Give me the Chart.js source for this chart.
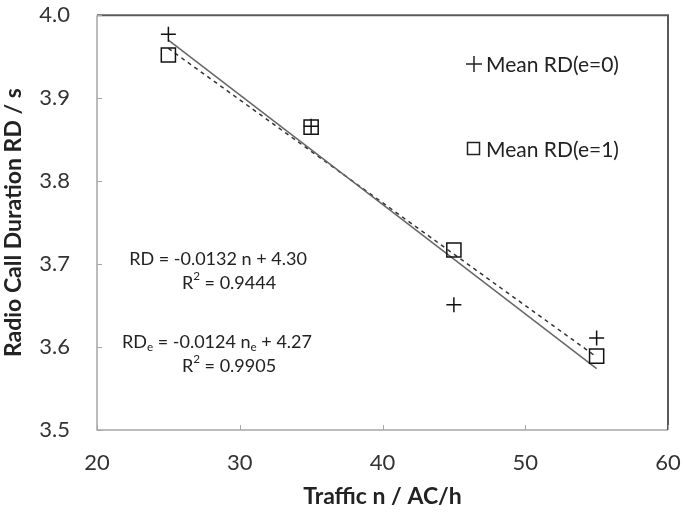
<!DOCTYPE html>
<html>
<head>
<meta charset="utf-8">
<script src="https://cdn.jsdelivr.net/npm/chart.js@4.4.1/dist/chart.umd.min.js"></script>
<style>
  body { margin: 0; background: #fff; }
  #wrap { width: 685px; height: 514px; }
</style>
</head>
<body>
<div id="wrap"><canvas id="myChart" width="685" height="514"></canvas></div>
<script>
// traffic n (AC/h)
var traffic = [25, 35, 45, 55];
// mean radio call duration, e=0 and e=1
var rdE0 = [3.977, 3.866, 3.651, 3.611];
var rdE1 = [3.952, 3.865, 3.717, 3.589];
// trend lines as printed on the chart
var fitE0 = { slope: -0.0132, intercept: 4.30 };
var fitE1 = { slope: -0.0124, intercept: 4.27 };
var xTicks = [20, 30, 40, 50, 60];
var yTicks = [3.5, 3.6, 3.7, 3.8, 3.9, 4.0];

var FONT = "Lato, 'Open Sans', sans-serif";
var AREA = { left: 97, top: 13, right: 668, bottom: 430 };

function pts(xs, ys) {
    return xs.map(function (x, i) { return { x: x, y: ys[i] }; });
}
function fitLine(fit) {
    var x0 = traffic[0], x1 = traffic[traffic.length - 1];
    return [{ x: x0, y: fit.slope * x0 + fit.intercept }, { x: x1, y: fit.slope * x1 + fit.intercept }];
}

// draws text made of runs, some subscript / superscript
function drawRuns(ctx, runs, cx, cy, size) {
    var total = 0;
    runs.forEach(function (r) {
        ctx.font = (r.sub || r.sup ? size * 0.65 : size) + "px " + FONT;
        r.w = ctx.measureText(r.t).width;
        total += r.w;
    });
    var x = cx - total / 2;
    runs.forEach(function (r) {
        ctx.font = (r.sub || r.sup ? size * 0.65 : size) + "px " + FONT;
        var dy = r.sub ? size * 0.3 : (r.sup ? -size * 0.35 : 0);
        ctx.fillText(r.t, x, cy + dy);
        x += r.w;
    });
}

var extras = {
    id: 'extras',
    afterDraw: function (chart) {
        var ctx = chart.ctx, a = chart.chartArea;
        var xs = chart.scales.x, ys = chart.scales.y;
        ctx.save();
        // box
        ctx.strokeStyle = '#a6a6a6';
        ctx.lineWidth = 1.5;
        ctx.beginPath();
        ctx.moveTo(a.left, a.top); ctx.lineTo(a.left, a.bottom); ctx.lineTo(a.right, a.bottom);
        ctx.stroke();
        ctx.strokeStyle = '#595959';
        ctx.lineWidth = 2;
        ctx.beginPath();
        ctx.moveTo(a.left, a.top); ctx.lineTo(a.right, a.top); ctx.lineTo(a.right, a.bottom);
        ctx.stroke();
        // inside tick marks
        ctx.strokeStyle = '#a6a6a6';
        ctx.lineWidth = 1;
        ctx.beginPath();
        yTicks.forEach(function (v) {
            var p = Math.round(ys.getPixelForValue(v)) + 0.5;
            ctx.moveTo(a.left, p); ctx.lineTo(a.left + 5, p);
        });
        xTicks.forEach(function (v) {
            var p = Math.round(xs.getPixelForValue(v)) + 0.5;
            ctx.moveTo(p, a.bottom); ctx.lineTo(p, a.bottom - 5);
        });
        ctx.stroke();

        // legend
        ctx.fillStyle = '#222';
        ctx.textBaseline = 'middle';
        ctx.textAlign = 'left';
        ctx.font = "21px " + FONT;
        ctx.strokeStyle = '#222';
        ctx.lineWidth = 1.5;
        ctx.beginPath();
        ctx.moveTo(466, 64); ctx.lineTo(482, 64);
        ctx.moveTo(474, 56); ctx.lineTo(474, 72);
        ctx.stroke();
        ctx.fillText('Mean RD(e=0)', 486, 65);
        ctx.strokeRect(467.5, 142.5, 12, 12);
        ctx.fillText('Mean RD(e=1)', 486, 150);

        // regression text
        ctx.textAlign = 'left';
        drawRuns(ctx, [{ t: 'RD = ' + fitE0.slope.toFixed(4) + ' n + ' + fitE0.intercept.toFixed(2) }], 218, 259, 18);
        drawRuns(ctx, [{ t: 'R' }, { t: '2', sup: true }, { t: ' = 0.9444' }], 229, 283, 18);
        drawRuns(ctx, [{ t: 'RD' }, { t: 'e', sub: true }, { t: ' = ' + fitE1.slope.toFixed(4) + ' n' }, { t: 'e', sub: true },
            { t: ' + ' + fitE1.intercept.toFixed(2) }], 217, 342, 18);
        drawRuns(ctx, [{ t: 'R' }, { t: '2', sup: true }, { t: ' = 0.9905' }], 229, 366, 18);
        ctx.restore();
    }
};

var pad = { top: 13, right: 17, left: 0, bottom: 0 };

var chart = new Chart(document.getElementById('myChart').getContext('2d'), {
    type: 'scatter',
    data: {
        datasets: [
            {
                label: 'Mean RD(e=0)',
                data: pts(traffic, rdE0),
                pointStyle: 'cross',
                pointRadius: 7.5,
                borderColor: '#111',
                borderWidth: 1.5,
                backgroundColor: 'transparent'
            },
            {
                label: 'Mean RD(e=1)',
                data: pts(traffic, rdE1),
                pointStyle: 'rect',
                pointRadius: 10,
                borderColor: '#111',
                borderWidth: 1.5,
                backgroundColor: 'transparent'
            },
            {
                label: 'fit e=0',
                data: fitLine(fitE0),
                showLine: true,
                pointRadius: 0,
                borderColor: '#666',
                borderWidth: 1.5
            },
            {
                label: 'fit e=1',
                data: fitLine(fitE1),
                showLine: true,
                pointRadius: 0,
                borderColor: '#333',
                borderWidth: 1.5,
                borderDash: [4, 4]
            }
        ]
    },
    options: {
        responsive: false,
        animation: false,
        layout: { padding: pad },
        plugins: { legend: { display: false }, tooltip: { enabled: false } },
        scales: {
            x: {
                type: 'linear', min: 20, max: 60,
                afterBuildTicks: function (s) { s.ticks = xTicks.map(function (v) { return { value: v }; }); },
                afterFit: function (s) { s.height = 84; },
                // invisible tick marks used as spacing, so tick padding doesn't push the plot in
                grid: { display: true, drawOnChartArea: false, drawTicks: true, tickLength: 18, color: 'rgba(0,0,0,0)' },
                border: { display: false },
                ticks: { color: '#333', font: { family: FONT, size: 22 }, padding: 2 },
                title: { display: true, text: 'Traffic n / AC/h', color: '#222', font: { family: FONT, size: 23, weight: 'bold' }, padding: { top: 0 } }
            },
            y: {
                type: 'linear', min: 3.5, max: 4.0,
                afterBuildTicks: function (s) { s.ticks = yTicks.map(function (v) { return { value: v }; }); },
                afterFit: function (s) { s.width = 97; },
                grid: { display: true, drawOnChartArea: false, drawTicks: true, tickLength: 25, color: 'rgba(0,0,0,0)' },
                border: { display: false },
                ticks: { color: '#333', font: { family: FONT, size: 22 }, padding: 2,
                    callback: function (v) { return v.toFixed(1); } },
                title: { display: true, text: 'Radio Call Duration RD / s', color: '#222', font: { family: FONT, size: 23, weight: 'bold' }, padding: 0 }
            }
        }
    },
    plugins: [extras]
});

// nudge the padding so the plot box sits where it does in the picture
for (var i = 0; i < 3; i++) {
    var a = chart.chartArea;
    pad = {
        top: pad.top - (a.top - AREA.top),
        right: pad.right + (a.right - AREA.right),
        left: pad.left - (a.left - AREA.left),
        bottom: pad.bottom + (a.bottom - AREA.bottom)
    };
    chart.config.options.layout.padding = pad;
    chart.update();
}
</script>
</body>
</html>
